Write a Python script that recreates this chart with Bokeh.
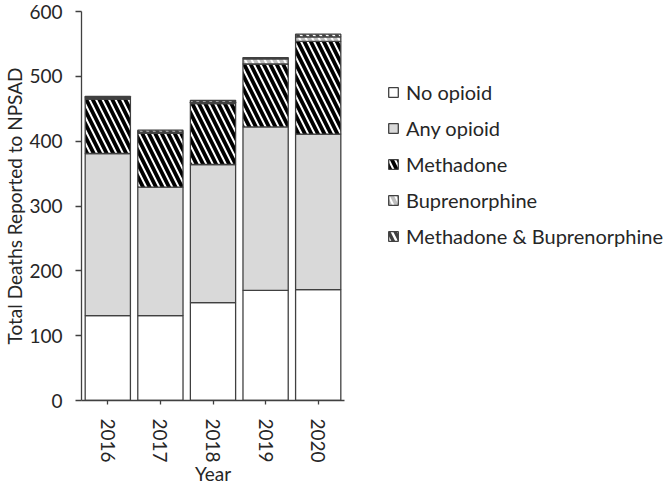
from bokeh.plotting import figure
from bokeh.models import Legend, LegendItem, FactorRange, Range1d, ColumnDataSource, FixedTicker
from bokeh.embed import file_html
from bokeh.resources import INLINE

years = ["2016", "2017", "2018", "2019", "2020"]
no_opioid = [131, 131, 151, 170, 171]
any_opioid = [250, 198, 213, 252, 240]
methadone = [84, 83, 94, 97, 143]
buprenorphine = [2, 2, 2, 8, 7]
meth_bup = [2, 3, 3, 2, 4]
series_names = ["No opioid", "Any opioid", "Methadone", "Buprenorphine", "Methadone & Buprenorphine"]
y_ticks = [0, 100, 200, 300, 400, 500, 600]

keys = ["no_opioid", "any_opioid", "methadone", "buprenorphine", "meth_bup"]
source = ColumnDataSource(dict(year=years, no_opioid=no_opioid, any_opioid=any_opioid,
                               methadone=methadone, buprenorphine=buprenorphine, meth_bup=meth_bup))

FONT = "Lato"
TXT = "#262626"
AX = "#404040"

p = figure(x_range=FactorRange(*years), y_range=Range1d(0, 600),
           frame_width=263, frame_height=389,
           output_backend="svg", toolbar_location=None,
           min_border_left=75, min_border_top=11, min_border_right=316, min_border_bottom=70)

rs = p.vbar_stack(keys, x="year", width=0.86, source=source,
                  fill_color=["white", "#d9d9d9", "white", "white", "#404040"],
                  hatch_pattern=[" ", " ", "\\", "\\", "\\"],
                  hatch_color=["black", "black", "black", "#bfbfbf", "white"],
                  hatch_weight=[1, 1, 3.8, 3.8, 2.5],
                  hatch_scale=[13, 13, 13, 13, 13],
                  line_color=AX, line_width=1.3)

p.xgrid.visible = False
p.ygrid.visible = False
p.outline_line_color = None

p.yaxis.ticker = FixedTicker(ticks=y_ticks)
p.yaxis.minor_tick_line_color = None
p.yaxis.major_tick_in = 0
p.yaxis.major_tick_out = 6
p.yaxis.major_label_standoff = 13
p.yaxis.axis_label = "Total Deaths Reported to NPSAD"
p.yaxis.axis_label_standoff = 0

p.xaxis.major_tick_in = 0
p.xaxis.major_tick_out = 4
p.xaxis.major_label_orientation = "vertical"
p.xaxis.major_label_standoff = 14
p.xaxis.axis_label = "Year"
p.xaxis.axis_label_standoff = -4

for ax in (p.xaxis, p.yaxis):
    ax.axis_line_color = AX
    ax.axis_line_width = 1.3
    ax.major_tick_line_color = AX
    ax.major_tick_line_width = 1.3
    ax.major_label_text_font = FONT
    ax.major_label_text_font_size = "19px"
    ax.major_label_text_color = TXT
    ax.axis_label_text_font = FONT
    ax.axis_label_text_font_size = "19px"
    ax.axis_label_text_font_style = "normal"
    ax.axis_label_text_color = TXT

items = [LegendItem(label=n, renderers=[r]) for n, r in zip(series_names, rs)]
legend = Legend(items=items, location=(43, 152), border_line_color=None,
                background_fill_alpha=0, padding=0, margin=0, spacing=12,
                glyph_width=12, glyph_height=12, label_height=20, label_standoff=7,
                label_text_font=FONT, label_text_font_size="20px", label_text_color=TXT)
p.add_layout(legend, "right")

open("out.html", "w").write(file_html(p, INLINE))
